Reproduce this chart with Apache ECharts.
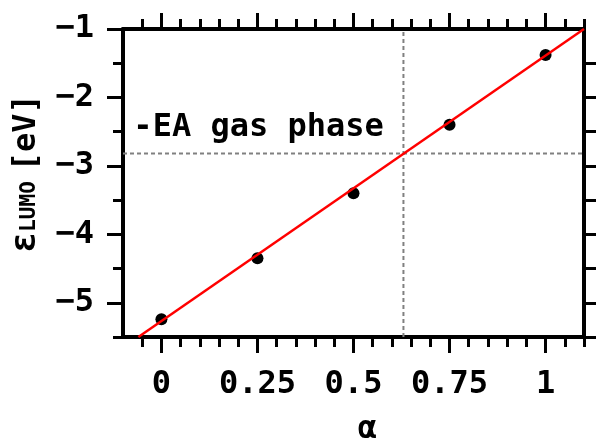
<!DOCTYPE html>
<html>
<head>
<meta charset="utf-8">
<script src="https://cdn.jsdelivr.net/npm/echarts@6/dist/echarts.min.js"></script>
<style>html,body{margin:0;padding:0;background:#fff}#c{width:598px;height:441px}</style>
</head>
<body>
<div id="c"></div>
<script>
// ---- data ----
const alphaValues = [0, 0.25, 0.5, 0.75, 1];
const lumoValues = [-5.24, -4.35, -3.40, -2.40, -1.38];
const fitLine = [[-0.06, -5.5], [1.1, -1.0]];
const eaGasPhase = -2.82;
const alphaCross = 0.63;
const annotationText = '-EA gas phase';
const annotationAt = [-0.073, -2.447];
const xTickValues = [0, 0.25, 0.5, 0.75, 1];
const xTickLabels = ['0', '0.25', '0.5', '0.75', '1'];
const xMinorTicks = [-0.05, 0.05, 0.1, 0.15, 0.2, 0.3, 0.35, 0.4, 0.45, 0.55, 0.6, 0.65, 0.7, 0.8, 0.85, 0.9, 0.95, 1.05, 1.1];
const yTickValues = [-5, -4, -3, -2, -1];
const yTickLabels = ['−5', '−4', '−3', '−2', '−1'];
const yMinorTicks = [-5.5, -4.5, -3.5, -2.5, -1.5];
const yRightTicks = [-5.5, -5, -4.5, -4, -3.5, -3, -2.5, -2, -1.5];
const xRange = [-0.1, 1.1];
const yRange = [-5.5, -1];

const FONT = 'DejaVu Sans Mono';
const FS = 32;
const AX = {color: '#000', width: 4};
const TICK = {color: '#000', width: 3};

function xAxisDef(pos, ticks, len, showLine, showLabel) {
  return {
    type: 'value', position: pos, min: xRange[0], max: xRange[1],
    axisLine: {show: showLine, onZero: false, lineStyle: AX},
    axisTick: {show: true, inside: false, length: len, lineStyle: TICK, customValues: ticks},
    axisLabel: showLabel ? {
      show: true, customValues: xTickValues, margin: 32,
      fontFamily: FONT, fontWeight: 'bold', fontSize: FS, color: '#000',
      formatter: v => xTickLabels[xTickValues.indexOf(+(+v).toFixed(4))]
    } : {show: false},
    splitLine: {show: false}
  };
}
function yAxisDef(pos, ticks, len, showLine, showLabel) {
  return {
    type: 'value', position: pos, min: yRange[0], max: yRange[1],
    axisLine: {show: showLine, onZero: false, lineStyle: AX},
    axisTick: {show: true, inside: false, length: len, lineStyle: TICK, customValues: ticks},
    axisLabel: showLabel ? {
      show: true, customValues: yTickValues, margin: 29,
      fontFamily: FONT, fontWeight: 'bold', fontSize: FS, color: '#000',
      formatter: v => yTickLabels[yTickValues.indexOf(Math.round(v))]
    } : {show: false},
    splitLine: {show: false}
  };
}

const xAxes = [
  xAxisDef('bottom', xMinorTicks, 10, true, true),
  xAxisDef('bottom', xTickValues, 16, false, false),
  xAxisDef('top', xMinorTicks, 10, true, false),
  xAxisDef('top', xTickValues, 16, false, false)
];
xAxes[0].name = 'α';
xAxes[0].nameLocation = 'middle';
xAxes[0].nameGap = 77;
xAxes[0].nameTextStyle = {fontFamily: FONT, fontWeight: 'bold', fontSize: FS, color: '#000', padding: [0, 0, 0, 28]};

const yAxes = [
  yAxisDef('left', yMinorTicks, 10, true, true),
  yAxisDef('left', yTickValues, 16, false, false),
  yAxisDef('right', yRightTicks, 12, true, false)
];
yAxes[0].name = '{e|ε}{s|LUMO}{b|[eV]}';
yAxes[0].nameLocation = 'middle';
yAxes[0].nameRotate = 90;
yAxes[0].nameGap = 80;
yAxes[0].nameTextStyle = {
  color: '#000', fontFamily: FONT, fontWeight: 'bold', padding: [0, 0, 0, 19],
  rich: {
    e: {fontFamily: FONT, fontWeight: 'bold', fontSize: 35, color: '#000', verticalAlign: 'bottom'},
    s: {fontFamily: FONT, fontWeight: 'bold', fontSize: 21, color: '#000', verticalAlign: 'bottom', padding: [0, 10, 3, 0]},
    b: {fontFamily: FONT, fontWeight: 'bold', fontSize: FS, color: '#000', verticalAlign: 'bottom'}
  }
};

const dashStyle = {color: '#808080', width: 2, type: [4, 3]};

const option = {
  animation: false,
  backgroundColor: '#fff',
  grid: {left: 123, right: 14, top: 29, bottom: 104, containLabel: false, outerBoundsMode: 'none'},
  xAxis: xAxes,
  yAxis: yAxes,
  series: [
    {
      type: 'line', xAxisIndex: 0, yAxisIndex: 0, silent: true, symbol: 'none',
      data: [[xRange[0], eaGasPhase], [xRange[1], eaGasPhase]],
      lineStyle: dashStyle, z: 1
    },
    {
      type: 'line', xAxisIndex: 0, yAxisIndex: 0, silent: true, symbol: 'none',
      data: [[alphaCross, yRange[0]], [alphaCross, yRange[1]]],
      lineStyle: dashStyle, z: 1
    },
    {
      type: 'scatter', xAxisIndex: 0, yAxisIndex: 0, symbol: 'circle', symbolSize: 12,
      itemStyle: {color: '#000', opacity: 1},
      data: alphaValues.map((a, i) => [a, lumoValues[i]]), z: 2
    },
    {
      type: 'line', xAxisIndex: 0, yAxisIndex: 0, symbol: 'none', clip: true,
      data: fitLine, lineStyle: {color: '#ff0000', width: 2.5}, z: 3
    },
    {
      type: 'scatter', xAxisIndex: 0, yAxisIndex: 0, symbolSize: 0, silent: true,
      itemStyle: {opacity: 1},
      data: [annotationAt],
      label: {show: true, position: 'right', distance: 0, formatter: annotationText,
        fontFamily: FONT, fontWeight: 'bold', fontSize: FS, color: '#000'}
    }
  ]
};
echarts.init(document.getElementById('c'), null, {renderer: 'canvas'}).setOption(option);
</script>
</body>
</html>
